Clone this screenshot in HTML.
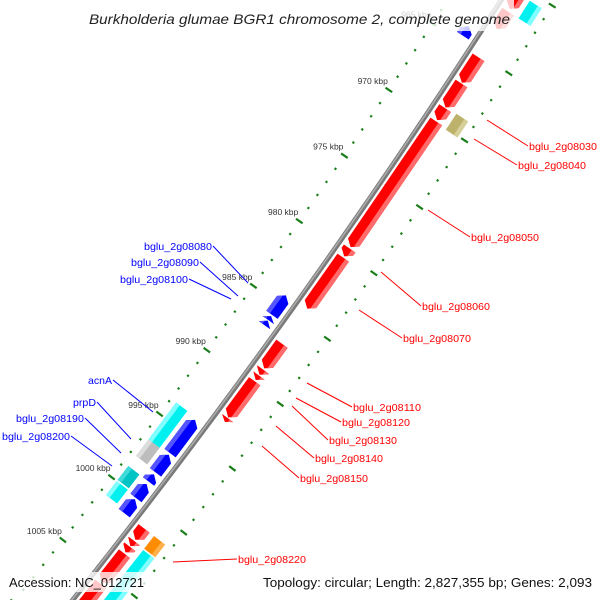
<!DOCTYPE html>
<html><head><meta charset="utf-8"><style>
html,body{margin:0;padding:0;background:#fff;width:600px;height:600px;overflow:hidden;}
svg{display:block;font-family:"Liberation Sans",sans-serif;}
</style></head><body>
<svg id="chart" width="600" height="600" viewBox="0 0 600 600" xmlns="http://www.w3.org/2000/svg">
<rect x="0" y="0" width="600" height="600" fill="#fff"/>
<g id="ticks"></g>
<g id="backbone"></g>
<g id="genes"></g>
<g id="labels"></g>
<g id="overlay">
  <rect x="84" y="0" width="430" height="31" fill="#fff" fill-opacity="0.78"/>
  <text x="89" y="24" font-size="14" font-style="italic" fill="#222" textLength="421" lengthAdjust="spacingAndGlyphs">Burkholderia glumae BGR1 chromosome 2, complete genome</text>
  <rect x="4" y="572" width="146" height="20" fill="#fff" fill-opacity="0.78"/>
  <text x="9" y="587" font-size="13" fill="#111" textLength="135" lengthAdjust="spacingAndGlyphs">Accession: NC_012721</text>
  <rect x="259" y="572" width="338" height="20" fill="#fff" fill-opacity="0.78"/>
  <text x="263" y="587" font-size="13" fill="#111" textLength="329" lengthAdjust="spacingAndGlyphs">Topology: circular; Length: 2,827,355 bp; Genes: 2,093</text>
</g>
</svg>
<script>
// ---- data (kbp) ----
const geneStart = [960.3,961.8,965.2,967.15,969.0,970.0,979.6,980.3,986.9,988.9,989.35,989.8,992.65,1001.3,1002.3,1002.75,1003.3,1005.7,
                   960.5,968.9,1001.3,1002.4,
                   963.9,984.3,985.9,986.25,993.96,996.7,998.24,999.0,1000.2,
                   993.8,996.7,998.8,1000.0];
const geneEnd   = [961.6,963.1,967.1,968.95,969.9,979.5,980.2,984.2,988.8,989.3,989.7,992.6,992.95,1002.2,1002.7,1003.2,1005.6,1009.0,
                   961.8,970.1,1002.3,1008.0,
                   964.6,985.8,986.2,986.6,996.57,998.08,998.8,1000.1,1001.3,
                   996.7,998.0,999.9,1001.1];
const geneRing  = ['f1','f1','f1','f1','f1','f1','f1','f1','f1','f1','f1','f1','f1','f1','f1','f1','f1','f1',
                   'f2','f2','f2','f2',
                   'r1','r1','r1','r1','r1','r1','r1','r1','r1',
                   'r2','r2','r2','r2'];
const geneColor = ['red','red','red','red','red','red','red','red','red','red','red','red','red','red','red','red','red','red',
                   'cyan','olive','orange','cyan',
                   'blue','blue','blue','blue','blue','blue','blue','blue','blue',
                   'cyan','gray','teal','cyan'];
const tickLabelKbp = [965,970,975,980,985,990,995,1000,1005];
const tickLabelText = ['965 kbp','970 kbp','975 kbp','980 kbp','985 kbp','990 kbp','995 kbp','1000 kbp','1005 kbp'];
const labelNames = ['bglu_2g08030','bglu_2g08040','bglu_2g08050','bglu_2g08060','bglu_2g08070','bglu_2g08110','bglu_2g08120','bglu_2g08130','bglu_2g08140','bglu_2g08150','bglu_2g08220',
                    'bglu_2g08080','bglu_2g08090','bglu_2g08100','acnA','prpD','bglu_2g08190','bglu_2g08200'];

// ---- geometry ----
const CX=-5557, CY=-3874, PHI0=35.60, DPK=360/2827.355, REF=985;
const RB=7191, RTI=7146, RTO=7237;
const RINGS={f1:[7196,7210],f2:[7215.5,7229.5],r1:[7171,7185],r2:[7152.5,7166.5]};
const COLORS={red:['#ff0000','#ff6a6a'],blue:['#0000ff','#5555ff'],cyan:['#00f0f0','#7fffff'],olive:['#bdb26b','#d6cf98'],
              orange:['#ff8c00','#ffb04a'],gray:['#bdbdbd','#dcdcdc'],teal:['#00c4c4','#40dada']};
const HEAD=0.35;
function pt(k,r){const a=(PHI0+(k-REF)*DPK)*Math.PI/180;return [CX+r*Math.cos(a),CY+r*Math.sin(a)];}
const NS='http://www.w3.org/2000/svg';
function mk(tag,attrs,parent){const e=document.createElementNS(NS,tag);for(const k in attrs)e.setAttribute(k,attrs[k]);parent.appendChild(e);return e;}
function P(list){return list.map(p=>p[0].toFixed(2)+','+p[1].toFixed(2)).join(' ');}

// ticks
const gT=document.getElementById('ticks');
[RTI,RTO].forEach((r,ri)=>{
  for(let k=955;k<=1012;k++){
    const major=k%5===0, h=major?4:1.1;
    const a=pt(k,r-h), b=pt(k,r+h);
    const l=mk('line',{x1:a[0],y1:a[1],x2:b[0],y2:b[1],stroke:'#1a7f1a','stroke-width':2.2},gT);
    
    
  }
});
tickLabelKbp.forEach((k,i)=>{
  const p=pt(k,RTI);
  const t=mk('text',{x:p[0]-1,y:p[1]-6,'font-size':8.5,'text-anchor':'end',fill:'#333'},gT);
  t.textContent=tickLabelText[i];
  
  
});

// backbone
const gB=document.getElementById('backbone');
function arcPath(r,k0,k1){const pts=[];for(let k=k0;k<=k1;k+=1)pts.push(pt(k,r));return 'M'+pts.map(p=>p[0].toFixed(2)+' '+p[1].toFixed(2)).join(' L');}
const bb=mk('path',{d:arcPath(RB,945,1020),stroke:'#7a7a7a','stroke-width':5,fill:'none'},gB);


const bh=mk('path',{d:arcPath(RB-0.8,945,1020),stroke:'#ababab','stroke-width':1.6,fill:'none'},gB);



// genes
const gG=document.getElementById('genes');
geneStart.forEach((s,i)=>{
  const e=geneEnd[i], ring=geneRing[i], r0=RINGS[ring][0], r1=RINGS[ring][1];
  const mid=(r0+r1)/2, hw=(r1-r0)/2;
  const isArrow=(ring==='f1'||ring==='r1'), fwd=ring[0]==='f';
  const h=Math.min(HEAD,e-s);
  function ext(r){
    if(!isArrow)return [s,e];
    const f=Math.abs(r-mid)/hw;
    return fwd?[s,e-h*f]:[s+h*f,e];
  }
  const rs=[r0,mid,r1];
  const poly=[];
  rs.forEach(r=>poly.push(pt(ext(r)[0],r)));
  rs.slice().reverse().forEach(r=>poly.push(pt(ext(r)[1],r)));
  const c=COLORS[geneColor[i]];
  const g=mk('g',{},gG);
  
  
  mk('polygon',{points:P(poly),fill:c[0]},g);
  const rA=fwd?r1:r0, rS=fwd?r1-0.32*(r1-r0):r0+0.32*(r1-r0);
  const strip=[pt(ext(rS)[0],rS),pt(ext(rS)[1],rS),pt(ext(rA)[1],rA),pt(ext(rA)[0],rA)];
  mk('polygon',{points:P(strip),fill:c[1]},g);
});

// labels (pixel placement of callouts)
const gL=document.getElementById('labels');
const labelTextX=[529,518,471,422,403,353,342,329,315,300,238, 212,199,188,112,96,84,70];
const labelTextY=[146,165,237,306,338,407,422,440,458,478,559, 246,262,279,380,402,418,436];
const lineFrom=[[487,120],[474,139],[428,210],[381,272],[359,310],[307,383],[296,398],[292,406],[276,426],[262,446],[173,562],
                [248,283],[238,296],[231,299],[153,412],[131,439],[121,453],[112,466]];
labelNames.forEach((n,i)=>{
  const red=i<11, col=red?'#ff0000':'#0000ff';
  const tx=labelTextX[i], ty=labelTextY[i];
  const ax=red?tx-1:tx+1;
  const ln=mk('line',{x1:lineFrom[i][0],y1:lineFrom[i][1],x2:ax,y2:ty,stroke:col,'stroke-width':1},gL);
  
  
  const w = n.length>6 ? 68 : (n==='acnA'?24:23);
  const t=mk('text',{x:tx,y:ty+4,'font-size':10.5,fill:col,'text-anchor':red?'start':'end',textLength:w,lengthAdjust:'spacingAndGlyphs'},gL);
  t.textContent=n;
  
  
});
</script>
</body></html>
